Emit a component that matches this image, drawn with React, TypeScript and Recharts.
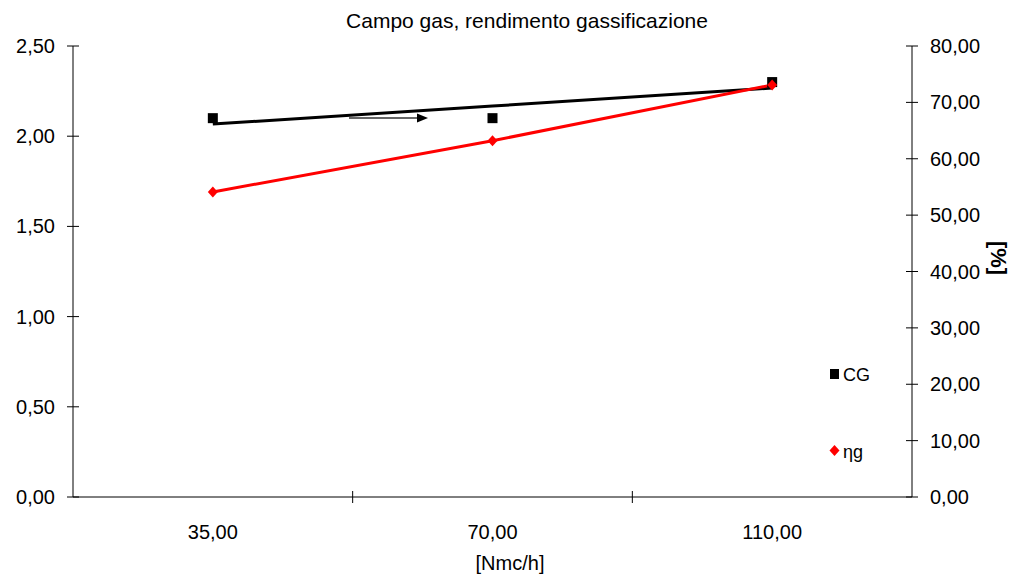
import React from "react";
import { ComposedChart, Line, XAxis, YAxis } from "recharts";

const categories = ["35,00", "70,00", "110,00"];
const xPositions = [0.5, 1.5, 2.5];
const cgValues = [2.1, 2.1, 2.3];
const cgTrend = [2.067, 2.167, 2.267];
const etaValues = [54.1, 63.2, 73.1];
const leftTicks = [0, 0.5, 1, 1.5, 2, 2.5];
const rightTicks = [0, 10, 20, 30, 40, 50, 60, 70, 80];
const xTicks = [0.5, 1, 1.5, 2, 2.5];
const seriesNames = ["CG", "ηg"];

const FONT = "'Liberation Sans', Arial, sans-serif";

const data = categories.map((c, i) => ({
  x: xPositions[i],
  label: c,
  cg: cgValues[i],
  cgTrend: cgTrend[i],
  eta: etaValues[i],
}));

const fmt = (v: number) => v.toFixed(2).replace(".", ",");

const LeftTick = (p: any) => (
  <g>
    <line x1={p.x - 6} x2={p.x + 6} y1={p.y} y2={p.y} stroke="#000" />
    <text x={p.x - 18} y={p.y} textAnchor="end" dominantBaseline="central" fontSize={20} fontFamily={FONT} fill="#000">
      {fmt(p.payload.value)}
    </text>
  </g>
);

const RightTick = (p: any) => (
  <g>
    <line x1={p.x - 6} x2={p.x + 6} y1={p.y} y2={p.y} stroke="#000" />
    <text x={p.x + 18} y={p.y} textAnchor="start" dominantBaseline="central" fontSize={20} fontFamily={FONT} fill="#000">
      {fmt(p.payload.value)}
    </text>
  </g>
);

const BottomTick = (p: any) => {
  const v = p.payload.value;
  if (Number.isInteger(v)) {
    return <line x1={p.x} x2={p.x} y1={p.y - 6} y2={p.y + 6} stroke="#000" />;
  }
  return (
    <text x={p.x} y={p.y + 35} textAnchor="middle" dominantBaseline="central" fontSize={20} fontFamily={FONT} fill="#000">
      {categories[Math.floor(v)]}
    </text>
  );
};

const squareDot = (p: any) =>
  p.cx == null ? null : <rect key={p.index} x={p.cx - 5} y={p.cy - 5} width={10} height={10} fill="#000" />;

const diamondDot = (p: any) =>
  p.cx == null ? null : (
    <path
      key={p.index}
      d={`M${p.cx},${p.cy - 5.5}L${p.cx + 5},${p.cy}L${p.cx},${p.cy + 5.5}L${p.cx - 5},${p.cy}Z`}
      fill="#ff0000"
    />
  );

export default function App() {
  return (
    <div style={{ position: "absolute", left: 0, top: 0, width: 1010, height: 577, background: "#fff" }}>
      <ComposedChart width={1010} height={577} data={data} margin={{ top: 46, right: 18, bottom: 40, left: 13 }}>
        <XAxis
          dataKey="x"
          type="number"
          domain={[0, 3]}
          ticks={xTicks}
          tick={BottomTick}
          tickSize={0}
          tickMargin={0}
          tickLine={false}
          axisLine={{ stroke: "#000" }}
          height={40}
          interval={0}
        />
        <YAxis
          yAxisId="left"
          domain={[0, 2.5]}
          ticks={leftTicks}
          tick={LeftTick}
          tickSize={0}
          tickMargin={0}
          tickLine={false}
          axisLine={{ stroke: "#000" }}
          width={60}
          interval={0}
        />
        <YAxis
          yAxisId="right"
          orientation="right"
          domain={[0, 80]}
          ticks={rightTicks}
          tick={RightTick}
          tickSize={0}
          tickMargin={0}
          tickLine={false}
          axisLine={{ stroke: "#000" }}
          width={80}
          interval={0}
        />
        <Line yAxisId="left" dataKey="cg" stroke="none" dot={squareDot} activeDot={false} isAnimationActive={false} />
        <Line yAxisId="left" dataKey="cgTrend" stroke="#000" strokeWidth={3} dot={false} activeDot={false} isAnimationActive={false} />
        <Line yAxisId="right" dataKey="eta" stroke="#ff0000" strokeWidth={3} dot={diamondDot} activeDot={false} isAnimationActive={false} />
      </ComposedChart>
      <svg width={1010} height={577} style={{ position: "absolute", left: 0, top: 0, pointerEvents: "none" }}>
        <text x={527} y={20} textAnchor="middle" dominantBaseline="central" fontSize={21} fontFamily={FONT} fill="#000">
          Campo gas, rendimento gassificazione
        </text>
        <text x={510} y={563} textAnchor="middle" dominantBaseline="central" fontSize={20} fontFamily={FONT} fill="#000">
          [Nmc/h]
        </text>
        <text
          x={998}
          y={258}
          textAnchor="middle"
          dominantBaseline="central"
          fontSize={22}
          fontWeight="bold"
          fontFamily={FONT}
          fill="#000"
          transform="rotate(90 998 258)"
        >
          [%]
        </text>
        <line x1={349} y1={118} x2={418} y2={118} stroke="#333" strokeWidth={1.5} />
        <path d="M417,113.5L428,118L417,122.5Z" fill="#000" />
        <rect x={830} y={369} width={9} height={10} fill="#000" />
        <text x={843} y={375} dominantBaseline="central" fontSize={18} fontFamily={FONT} fill="#000">
          {seriesNames[0]}
        </text>
        <path d="M834.5,445L839.5,450.5L834.5,456L829.5,450.5Z" fill="#ff0000" />
        <text x={843} y={452} dominantBaseline="central" fontSize={18} fontFamily={FONT} fill="#000">
          {seriesNames[1]}
        </text>
      </svg>
    </div>
  );
}
